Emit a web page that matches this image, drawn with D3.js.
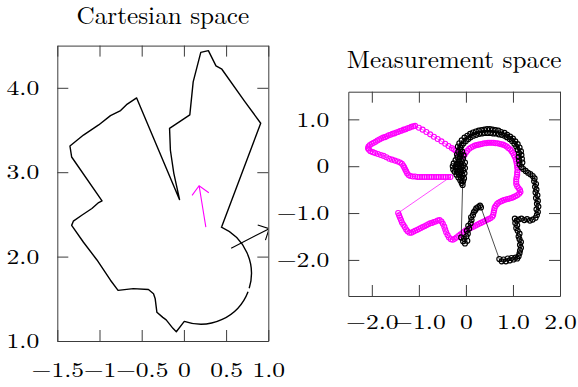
<!DOCTYPE html>
<html>
<head>
<meta charset="utf-8">
<script src="https://cdn.jsdelivr.net/npm/d3@7"></script>
<style>
  html, body { margin: 0; padding: 0; background: #fff; }
  svg { display: block; }
</style>
</head>
<body>
<svg id="chart" width="578" height="387"></svg>
<script>
// ---------- Cartesian space: closed outline of the robot path ----------
const outlineBeforeArc = [
  [-0.05,2.67],[-0.12,2.99],[-0.16,3.26],[-0.17,3.52],[0.07,3.68],[0.11,4.07],
  [0.20,4.42],[0.29,4.44],[0.38,4.26],[0.45,4.22],[0.72,3.84],[0.91,3.58],[0.45,2.36]
];
const arcCenter = [0.2, 1.8];
const arcRadius = 0.6;
const arcSpans = [[66, -17], [-21, -109]];   // degrees, drawn clockwise
const outlineAfterArc = [
  [-0.09,1.11],[-0.13,1.15],[-0.21,1.25],[-0.25,1.28],[-0.32,1.34],[-0.33,1.42],
  [-0.34,1.50],[-0.36,1.56],[-0.42,1.61],[-0.60,1.62],[-0.78,1.60],[-0.87,1.72],
  [-1.03,1.96],[-1.19,2.17],[-1.33,2.37],[-1.31,2.42],[-1.21,2.49],[-1.09,2.57],
  [-1.01,2.64],[-0.97,2.66],[-1.33,3.18],[-1.35,3.31],[-1.19,3.44],[-1.01,3.56],
  [-0.87,3.67],[-0.75,3.73],[-0.68,3.80],[-0.56,3.88],[-0.05,2.67]
];
// heading arrows (tail -> tip)
const arrowTails = [[0.26,2.35],[0.56,2.10]];
const arrowTips  = [[0.18,2.84],[1.01,2.33]];
const arrowColors = ["#ff00ff", "#000000"];

// ---------- Measurement space ----------
const predicted = [
  [-0.33,-0.23],[-0.38,-0.23],[-0.43,-0.23],[-0.48,-0.23],[-0.53,-0.23],[-0.58,-0.23],
  [-0.63,-0.23],[-0.68,-0.23],[-0.73,-0.23],[-0.78,-0.23],[-0.83,-0.23],[-0.88,-0.23],
  [-0.93,-0.23],[-0.98,-0.23],[-1.03,-0.23],[-1.08,-0.22],[-1.13,-0.22],[-1.18,-0.21],
  [-1.22,-0.19],[-1.25,-0.15],[-1.27,-0.11],[-1.29,-0.07],[-1.31,-0.03],[-1.33,0.01],
  [-1.36,0.05],[-1.40,0.08],
  [-1.45,0.10],[-1.51,0.12],[-1.57,0.14],[-1.63,0.16],[-1.69,0.19],[-1.75,0.22],
  [-1.81,0.24],[-1.87,0.26],[-1.93,0.28],[-1.98,0.30],[-2.03,0.32],[-2.06,0.35],[-2.08,0.38],
  [-2.07,0.42],[-2.04,0.45],[-2.00,0.48],[-1.96,0.50],[-1.92,0.52],[-1.88,0.55],
  [-1.84,0.57],[-1.80,0.59],[-1.76,0.61],[-1.72,0.62],[-1.68,0.64],[-1.64,0.66],
  [-1.60,0.67],[-1.56,0.69],[-1.52,0.70],[-1.48,0.72],[-1.44,0.73],[-1.40,0.75],
  [-1.36,0.76],[-1.32,0.78],[-1.28,0.79],[-1.24,0.81],[-1.20,0.82],[-1.16,0.84],
  [-1.12,0.85],[-1.08,0.86],
  [-1.00,0.82],[-0.92,0.78],[-0.84,0.73],[-0.76,0.68],[-0.68,0.63],[-0.60,0.58],
  [-0.52,0.53],[-0.44,0.48],[-0.37,0.43],
  [-0.30,0.39],[-0.26,0.36],[-0.22,0.33],[-0.18,0.30],[-0.14,0.27],[-0.10,0.24],[-0.06,0.21],
  [-0.03,0.24],[0.00,0.29],[0.03,0.33],[0.07,0.37],[0.11,0.40],[0.15,0.42],[0.19,0.44],
  [0.23,0.45],[0.27,0.46],[0.31,0.47],[0.35,0.48],[0.39,0.49],[0.43,0.49],[0.47,0.50],
  [0.51,0.50],[0.55,0.50],[0.59,0.50],[0.63,0.49],[0.67,0.49],[0.71,0.48],[0.75,0.47],
  [0.79,0.46],[0.83,0.44],[0.87,0.42],[0.90,0.39],[0.94,0.36],[0.97,0.32],[1.00,0.28],
  [1.02,0.24],[1.04,0.20],[1.06,0.15],[1.07,0.11],[1.08,0.06],[1.09,0.02],[1.09,-0.03],
  [1.10,-0.08],[1.09,-0.13],[1.09,-0.18],[1.08,-0.23],[1.07,-0.28],[1.07,-0.33],
  [1.07,-0.38],[1.09,-0.43],[1.12,-0.47],[1.15,-0.51],[1.16,-0.55],[1.13,-0.59],
  [1.09,-0.62],[1.05,-0.64],[1.01,-0.66],[0.97,-0.68],[0.93,-0.69],[0.89,-0.70],
  [0.85,-0.71],[0.81,-0.72],[0.77,-0.74],[0.73,-0.76],[0.69,-0.78],[0.66,-0.81],
  [0.63,-0.85],[0.61,-0.89],[0.60,-0.94],[0.59,-0.99],[0.58,-1.04],[0.56,-1.08],
  [0.52,-1.11],[0.48,-1.13],[0.44,-1.15],[0.40,-1.17],[0.36,-1.19],[0.32,-1.21],
  [0.28,-1.23],[0.24,-1.25],[0.20,-1.27],[0.16,-1.29],[0.12,-1.31],[0.08,-1.33],
  [0.04,-1.35],[0.00,-1.37],[-0.04,-1.40],[-0.08,-1.43],[-0.12,-1.46],[-0.16,-1.49],
  [-0.20,-1.52],[-0.24,-1.55],[-0.28,-1.57],[-0.32,-1.56],[-0.36,-1.52],[-0.39,-1.47],
  [-0.42,-1.41],[-0.44,-1.35],[-0.46,-1.29],[-0.49,-1.23],[-0.52,-1.18],[-0.56,-1.15],
  [-0.60,-1.16],[-0.64,-1.18],[-0.68,-1.19],[-0.72,-1.21],[-0.76,-1.22],[-0.80,-1.24],
  [-0.84,-1.26],[-0.88,-1.28],[-0.92,-1.30],[-0.96,-1.32],[-1.00,-1.34],[-1.04,-1.36],
  [-1.08,-1.38],[-1.12,-1.40],[-1.16,-1.42],[-1.20,-1.42],[-1.24,-1.39],[-1.27,-1.35],
  [-1.30,-1.30],[-1.33,-1.25],[-1.36,-1.20],[-1.38,-1.15],[-1.40,-1.10],[-1.42,-1.05],
  [-1.44,-1.00]
];

const measured = [
  [-0.12,0.36],[-0.16,0.31],[-0.08,0.31],[-0.19,0.25],[-0.11,0.26],[-0.05,0.23],
  [-0.18,0.19],[-0.13,0.19],[-0.06,0.16],[-0.22,0.13],[-0.15,0.12],[-0.08,0.10],
  [-0.02,0.08],[-0.26,0.06],[-0.19,0.05],[-0.12,0.05],[-0.05,0.02],[-0.28,0.00],
  [-0.22,-0.01],[-0.16,-0.01],[-0.09,-0.02],[-0.02,-0.04],[-0.27,-0.07],[-0.21,-0.06],
  [-0.13,-0.07],[-0.06,-0.09],[-0.24,-0.12],[-0.18,-0.12],[-0.10,-0.13],[-0.03,-0.15],
  [-0.20,-0.18],[-0.14,-0.18],[-0.07,-0.20],[-0.16,-0.24],[-0.10,-0.25],[-0.04,-0.26],
  [-0.12,-0.30],[-0.06,-0.32],[-0.09,-0.36],[-0.07,-0.40],
  [-0.10,-1.52],[-0.06,-1.60],[-0.02,-1.65],[0.03,-1.59],[-0.04,-1.55],[0.01,-1.50],
  [0.04,-1.44],[0.02,-1.38],[0.07,-1.33],[0.05,-1.27],[0.10,-1.22],[0.12,-1.15],
  [0.11,-1.09],[0.15,-1.04],[0.17,-0.98],[0.20,-0.94],[0.22,-0.90],[0.26,-0.87],
  [0.30,-0.84],[0.32,-0.88],
  [0.71,-1.98],[0.76,-2.03],[0.80,-1.99],[0.85,-2.03],[0.89,-1.97],[0.93,-2.01],
  [0.97,-1.96],[1.01,-1.99],[1.05,-1.95],[1.09,-1.97],[1.12,-1.92],[1.14,-1.86],
  [1.15,-1.80],[1.17,-1.74],[1.15,-1.68],[1.17,-1.62],[1.14,-1.56],[1.12,-1.50],
  [1.14,-1.44],[1.10,-1.38],[1.07,-1.32],[1.09,-1.26],[1.05,-1.21],[1.08,-1.16],
  [1.04,-1.12],[1.12,-1.14],[1.18,-1.12],[1.24,-1.15],[1.30,-1.13],[1.36,-1.16],
  [1.42,-1.14],[1.48,-1.10],[1.51,-1.04],[1.53,-0.98],[1.50,-0.92],[1.54,-0.86],
  [1.51,-0.80],[1.53,-0.74],[1.49,-0.68],[1.52,-0.62],[1.48,-0.56],[1.50,-0.50],
  [1.47,-0.44],[1.49,-0.38],[1.45,-0.32],[1.46,-0.26],[1.42,-0.21],[1.37,-0.17],
  [1.32,-0.14],[1.27,-0.10],[1.22,-0.06],[1.18,-0.02],
  [1.14,0.04],[1.20,0.08],[1.13,0.12],[1.19,0.16],[1.12,0.20],[1.18,0.24],[1.13,0.28],
  [1.17,0.32],[1.10,0.35],[1.14,0.40],[1.07,0.42],[1.10,0.47],[1.03,0.48],[1.05,0.53],
  [0.98,0.54],[1.00,0.59],[0.93,0.58],[0.94,0.63],[0.87,0.62],[0.88,0.67],[0.82,0.65],
  [0.82,0.71],[0.76,0.67],[0.75,0.73],[0.70,0.68],[0.69,0.76],[0.64,0.70],[0.63,0.77],
  [0.58,0.70],[0.57,0.78],[0.52,0.71],[0.51,0.79],[0.46,0.71],[0.45,0.79],[0.40,0.71],
  [0.39,0.78],[0.34,0.70],[0.33,0.77],[0.28,0.69],[0.27,0.76],[0.22,0.67],[0.21,0.74],
  [0.16,0.65],[0.15,0.72],[0.10,0.62],[0.09,0.69],[0.05,0.58],[0.03,0.65],[0.00,0.54],
  [-0.03,0.61],[-0.05,0.49],[-0.09,0.55],[-0.09,0.44],[-0.14,0.49],[-0.12,0.40],[-0.17,0.42]
];

// ---------- axis ticks ----------
const leftXTicks  = [-1.5, -1, -0.5, 0, 0.5, 1.0];
const leftXLabels = ["\u22121.5", "\u22121", "\u22120.5", "0", "0.5", "1.0"];
const leftYTicks  = [1, 2, 3, 4];
const leftYLabels = ["1.0", "2.0", "3.0", "4.0"];
const rightXTicks  = [-2, -1, 0, 1, 2];
const rightXLabels = ["\u22122.0", "\u22121.0", "0", "1.0", "2.0"];
const rightYTicks  = [-2, -1, 0, 1];
const rightYLabels = ["\u22122.0", "\u22121.0", "0", "1.0"];

// ---------- drawing ----------
const svg = d3.select("#chart");
const FONT = "'Latin Modern Roman', 'Liberation Serif', serif";
const TICK = 11;
const FRAME = "#3c3c3c";
const LABEL_SIZE = "21px", LABEL_STRETCH = 1.22;

const xL = d3.scaleLinear().domain([-1.5, 1.0]).range([57.3, 268.3]);
const yL = d3.scaleLinear().domain([1, 4.5]).range([341, 45.6]);
const xR = d3.scaleLinear().domain([-2.5, 2.0]).range([348.3, 560]);
const yR = d3.scaleLinear().domain([-2.77, 1.59]).range([296, 91.7]);

function styleAxis(g) {
  g.attr("font-size", null).attr("font-family", null);
  g.select(".domain").attr("stroke", FRAME).attr("stroke-width", 1);
  g.selectAll(".tick line").attr("stroke", FRAME).attr("stroke-width", 1);
  g.selectAll("text").style("font-family", FONT).style("font-size", LABEL_SIZE).attr("fill", "#000");
}

function drawFrame(x, y, xt, xl, yt, yl, xLabelDrop, yLabelGap) {
  const [x0, x1] = x.range();
  const [y0, y1] = y.range();
  const g = svg.append("g");
  g.append("g").attr("transform", `translate(0,${y0})`)
    .call(d3.axisBottom(x).tickValues(xt).tickFormat((d, i) => xl[i]).tickSize(-TICK).tickSizeOuter(0))
    .call(styleAxis)
    .call(a => a.selectAll("text").attr("y", 0).attr("dy", 0)
      .attr("transform", `translate(0,${xLabelDrop}) scale(${LABEL_STRETCH},1)`));
  g.append("g").attr("transform", `translate(0,${y1})`)
    .call(d3.axisTop(x).tickValues(xt).tickFormat("").tickSize(-TICK).tickSizeOuter(0))
    .call(styleAxis);
  g.append("g").attr("transform", `translate(${x0},0)`)
    .call(d3.axisLeft(y).tickValues(yt).tickFormat((d, i) => yl[i]).tickSize(-TICK).tickSizeOuter(0))
    .call(styleAxis)
    .call(a => a.selectAll("text").attr("x", 0).attr("dy", "0.32em")
      .attr("transform", `translate(${-yLabelGap},0) scale(${LABEL_STRETCH},1)`));
  g.append("g").attr("transform", `translate(${x1},0)`)
    .call(d3.axisRight(y).tickValues(yt).tickFormat("").tickSize(-TICK).tickSizeOuter(0))
    .call(styleAxis);
}

function title(text, cx, baseline) {
  svg.append("text")
    .attr("transform", `translate(${cx},${baseline}) scale(1.03,1)`)
    .attr("text-anchor", "middle")
    .style("font-family", FONT).style("font-size", "24.5px").attr("fill", "#000")
    .text(text);
}

// clip region of the left panel
const defs = svg.append("defs");
defs.append("clipPath").attr("id", "clipL").append("rect")
  .attr("x", xL.range()[0]).attr("y", yL.range()[1])
  .attr("width", xL.range()[1] - xL.range()[0]).attr("height", yL.range()[0] - yL.range()[1]);

// ---- left panel ----
const left = svg.append("g").attr("clip-path", "url(#clipL)");
const p = d3.path();
outlineBeforeArc.forEach((d, i) => i ? p.lineTo(xL(d[0]), yL(d[1])) : p.moveTo(xL(d[0]), yL(d[1])));
const cx = xL(arcCenter[0]), cy = yL(arcCenter[1]), r = xL(arcRadius) - xL(0);
arcSpans.forEach(([a0, a1], i) => {
  const s0 = -a0 * Math.PI / 180, s1 = -a1 * Math.PI / 180;
  if (i > 0) p.moveTo(cx + r * Math.cos(s0), cy + r * Math.sin(s0));
  p.arc(cx, cy, r, s0, s1, false);
});
outlineAfterArc.forEach(d => p.lineTo(xL(d[0]), yL(d[1])));
left.append("path").attr("d", p.toString())
  .attr("fill", "none").attr("stroke", "#000").attr("stroke-width", 1.4)
  .attr("stroke-linejoin", "round");

arrowTails.forEach((t, i) => {
  const ax = xL(t[0]), ay = yL(t[1]);
  const bx = xL(arrowTips[i][0]), by = yL(arrowTips[i][1]);
  const ang = Math.atan2(ay - by, ax - bx);
  const L = 12, spread = Math.PI / 4;
  const h = d3.path();
  h.moveTo(ax, ay); h.lineTo(bx, by);
  h.moveTo(bx + L * Math.cos(ang + spread), by + L * Math.sin(ang + spread));
  h.lineTo(bx, by);
  h.lineTo(bx + L * Math.cos(ang - spread), by + L * Math.sin(ang - spread));
  left.append("path").attr("d", h.toString())
    .attr("fill", "none").attr("stroke", arrowColors[i]).attr("stroke-width", 1.1);
});

drawFrame(xL, yL, leftXTicks, leftXLabels, leftYTicks, leftYLabels, 36, 18);
title("Cartesian space", 162.8, 24);

// ---- right panel ----
const right = svg.append("g");
function series(data, color, ringWidth) {
  const line = d3.line().x(d => xR(d[0])).y(d => yR(d[1])).curve(d3.curveLinearClosed);
  right.append("path").attr("d", line(data))
    .attr("fill", "none").attr("stroke", color).attr("stroke-width", 0.7);
  right.append("g").selectAll("circle").data(data).join("circle")
    .attr("cx", d => xR(d[0])).attr("cy", d => yR(d[1])).attr("r", 2.5)
    .attr("fill", "none").attr("stroke", color).attr("stroke-width", ringWidth);
}
series(predicted, "#ff00ff", 1.1);
series(measured, "#000000", 1.15);

drawFrame(xR, yR, rightXTicks, rightXLabels, rightYTicks, rightYLabels, 33, 19);
title("Measurement space", 454.2, 68);
</script>
</body>
</html>
